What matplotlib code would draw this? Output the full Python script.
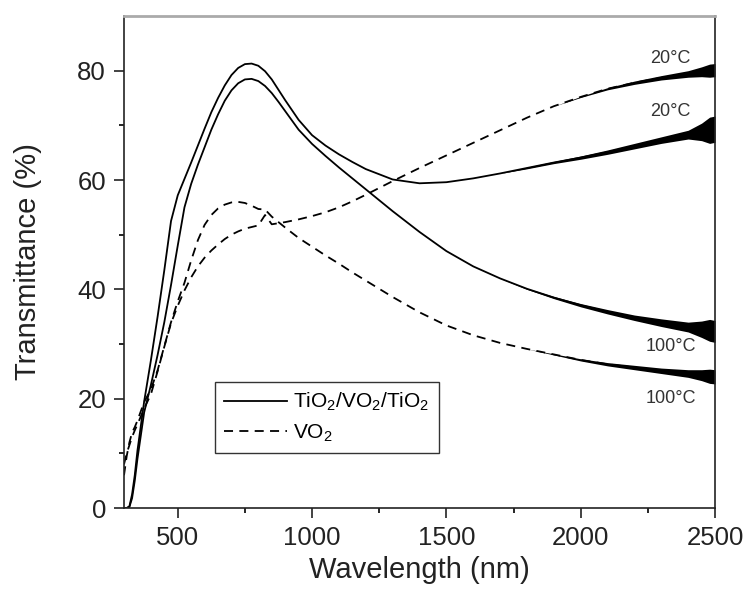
import matplotlib
matplotlib.use("Agg")
import matplotlib.pyplot as plt
import numpy as np

plt.rcParams['font.family'] = ['Liberation Sans', 'DejaVu Sans']
plt.rcParams['mathtext.default'] = 'regular'

# wavelength grid (nm) shared by all four spectra
wavelength = [300, 310, 320, 330, 340, 350, 375, 400, 425, 450, 475, 500, 525, 550, 575,
              600, 625, 650, 675, 700, 725, 750, 775, 800, 825, 850, 875, 900, 950,
              1000, 1050, 1100, 1150, 1200, 1300, 1400, 1500, 1600, 1700, 1800, 1900,
              2000, 2100, 2200, 2300, 2400, 2450, 2480, 2500]

# TiO2/VO2/TiO2 stack, transmittance (%)
stack_20 = [0, 0, 0.3, 2.5, 6, 10.5, 19.5, 27, 35, 43.5, 52.5, 57.2, 60.2, 63.2, 66.3,
            69.4, 72.4, 75, 77.3, 79.2, 80.5, 81.2, 81.3, 80.9, 79.9, 78.4, 76.5, 74.6, 71,
            68.2, 66.3, 64.7, 63.3, 62, 60.1, 59.4, 59.6, 60.3, 61.2, 62.2, 63.2,
            64.1, 65.1, 66.2, 67.3, 68.3, 68.8, 69.1, 69.3]
stack_100 = [0, 0, 0.2, 1.8, 5, 9, 17.5, 22.5, 28, 34, 40.8, 48, 55, 59.3, 62.8,
             66, 69.2, 72, 74.5, 76.4, 77.7, 78.4, 78.5, 78.1, 77.2, 75.9, 74.3, 72.6, 69.2,
             66.6, 64.4, 62.3, 60.3, 58.3, 54.3, 50.5, 47, 44.2, 42, 40.1, 38.5,
             37.1, 35.9, 34.8, 33.9, 33.1, 32.7, 32.5, 32.3]

# bare VO2 film, transmittance (%)
vo2_20 = [8, 10, 11.5, 13, 14.2, 15.3, 18.2, 20.8, 25, 29.5, 33.8, 37, 39.8, 42.2, 44.2,
          45.8, 47.1, 48.2, 49.2, 50, 50.6, 51.1, 51.4, 51.7, 53.6, 51.9, 52.1, 52.3, 52.8,
          53.4, 54.1, 55, 56.1, 57.3, 59.8, 62.2, 64.5, 66.8, 69.1, 71.4, 73.5,
          75.2, 76.7, 77.8, 78.7, 79.4, 79.8, 80, 80.1]
vo2_100 = [6, 9.5, 12, 13.8, 14.8, 16, 19.4, 21.7, 25.2, 29.6, 34, 37.8, 41.2, 45.3, 49,
           51.8, 53.6, 54.8, 55.5, 55.9, 56, 55.8, 55.3, 54.7, 54.6, 53.3, 52.3, 51.3, 49.4,
           47.8, 46.2, 44.7, 43.1, 41.6, 38.6, 35.8, 33.4, 31.6, 30.2, 29.1, 28.1,
           27.1, 26.3, 25.7, 25.1, 24.6, 24.3, 24.1, 24.0]

# detector noise half-width (%), only present at the long-wavelength end
noise_stack_20 = [0]*39 + [0.15, 0.2, 0.3, 0.4, 0.5, 0.6, 0.8, 1.6, 2.4, 2.4]
noise_stack_100 = [0]*39 + [0.1, 0.2, 0.3, 0.4, 0.5, 0.7, 0.9, 1.5, 2.0, 2.0]
noise_vo2_20 = [0]*39 + [0, 0, 0.1, 0.2, 0.3, 0.4, 0.6, 0.9, 1.2, 1.2]
noise_vo2_100 = [0]*39 + [0, 0.1, 0.2, 0.3, 0.4, 0.5, 0.7, 1.0, 1.3, 1.3]

temp_labels = ['20°C', '20°C', '100°C', '100°C']
temp_label_y = [82.3, 72.5, 29.6, 20.1]

wl = np.array(wavelength)

fig = plt.figure(figsize=(7.48, 5.93), dpi=100)
ax = fig.add_axes([0.1658, 0.1433, 0.7901, 0.8297])

dash = (0, (5, 3.5))
ax.plot(wl, stack_20, color='black', lw=1.3, label=r'TiO$_2$/VO$_2$/TiO$_2$')
ax.plot(wl, stack_100, color='black', lw=1.3)
ax.plot(wl, vo2_20, color='black', lw=1.3, linestyle=dash, label=r'VO$_2$')
ax.plot(wl, vo2_100, color='black', lw=1.3, linestyle=dash)

for y, n in [(stack_20, noise_stack_20), (stack_100, noise_stack_100),
             (vo2_20, noise_vo2_20), (vo2_100, noise_vo2_100)]:
    y = np.array(y)
    n = np.array(n)
    ax.fill_between(wl, y - n, y + n, color='black', lw=0)

for t, yy in zip(temp_labels, temp_label_y):
    ax.text(2334, yy, t, fontsize=13, color='#333333', ha='center', va='center')

ax.set_xlim(300, 2500)
ax.set_ylim(0, 90)
ax.set_xticks([500, 1000, 1500, 2000, 2500])
ax.set_xticks([750, 1250, 1750, 2250], minor=True)
ax.set_yticks([0, 20, 40, 60, 80])
ax.set_yticks([10, 30, 50, 70], minor=True)
ax.tick_params(which='major', length=7, width=1.2, labelsize=18.5, pad=6, colors='#222222')
ax.tick_params(which='minor', length=3.5, width=1.2)
ax.tick_params(top=False, right=False)

for s in ['left', 'bottom', 'right']:
    ax.spines[s].set_linewidth(1.2)
    ax.spines[s].set_color('#222222')
ax.spines['top'].set_linewidth(2)
ax.spines['top'].set_color('#aaaaaa')

ax.set_xlabel('Wavelength (nm)', fontsize=21, color='#222222')
ax.set_ylabel('Transmittance (%)', fontsize=21, color='#222222')
ax.xaxis.set_label_coords(0.5, -0.098)
ax.yaxis.set_label_coords(-0.139, 0.5)

leg = ax.legend(loc='upper left', bbox_to_anchor=(0.154, 0.257), borderaxespad=0,
                fontsize=15, handlelength=3.0, handletextpad=0.3, fancybox=False,
                edgecolor='#333333', framealpha=1, borderpad=0.45, labelspacing=0.45)
leg.get_frame().set_linewidth(1.0)

fig.savefig('out.png', dpi=100)
